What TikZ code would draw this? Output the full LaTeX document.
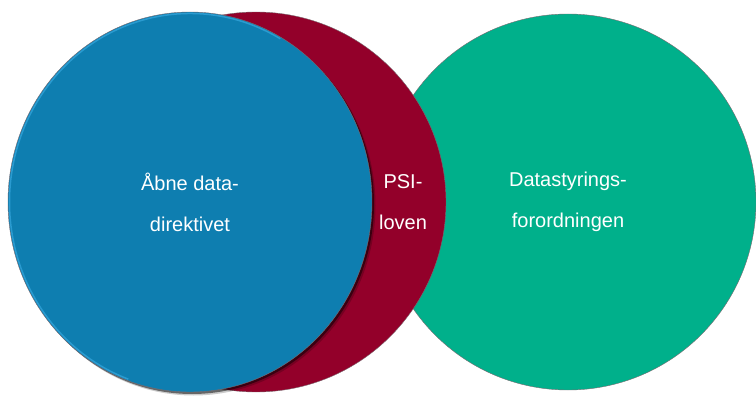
\documentclass[tikz,border=0pt]{standalone}
\usepackage{fontspec}
\setmainfont{Liberation Sans}
\definecolor{cblue}{HTML}{0E7EB0}
\definecolor{cbluerim}{HTML}{2A9BD0}
\definecolor{cred}{HTML}{93002A}
\definecolor{cgreen}{HTML}{00B08B}
\definecolor{cedge}{HTML}{7A6A70}
\tikzset{
  disc/.style={draw=cedge, line width=0.4pt},
  lbl/.style={text=white, align=center, font=\fontsize{20}{41}\selectfont, inner sep=0pt}
}
\begin{document}
\begin{tikzpicture}[x=1pt,y=1pt]
\useasboundingbox (0,0) rectangle (756,397);
% green circle
\filldraw[disc, fill=cgreen] (568,195) circle [radius=188];
% red circle
\filldraw[disc, fill=cred] (256,195) circle [radius=190];
% blue shadow
\fill[black, opacity=0.5] (192,193) ellipse [x radius=182, y radius=190];
\fill[black, opacity=0.2] (193.5,191.5) ellipse [x radius=182, y radius=190];
% blue circle
\filldraw[disc, fill=cblue] (190,195) ellipse [x radius=182, y radius=190];
\draw[cbluerim, line width=1.5pt] (190,195) ++(60:180.5 and 188.5) arc [start angle=60, end angle=250, x radius=180.5, y radius=188.5];
% labels
\node[lbl] (blue) at (190,195) {Åbne data-\\direktivet};
\node[lbl] (psi) at (403,195) {PSI-\\loven};
\node[lbl] (green) at (568,195) {Datastyrings-\\forordningen};
\end{tikzpicture}
\end{document}
